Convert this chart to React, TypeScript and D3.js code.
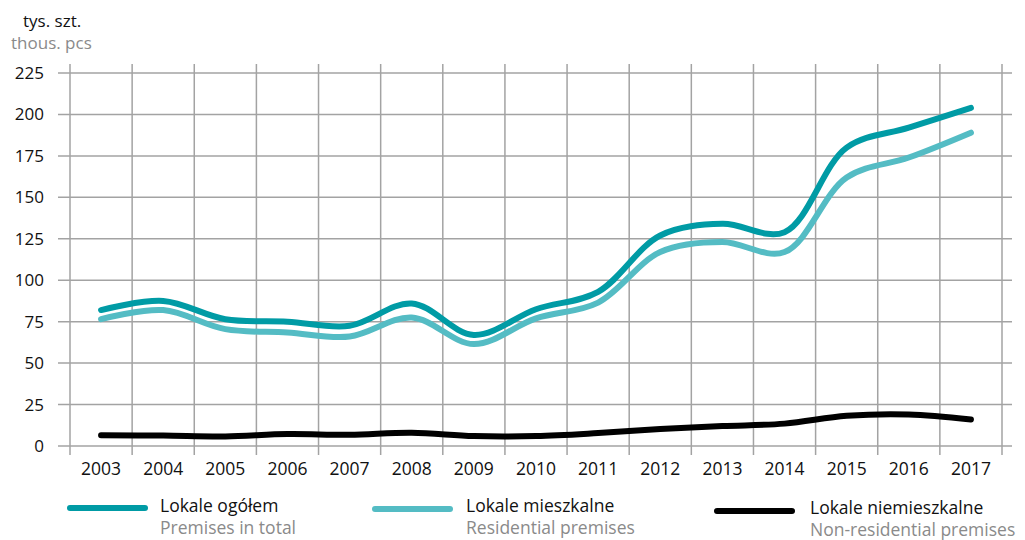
import React from "react";
import * as d3 from "d3";

const years = ["2003", "2004", "2005", "2006", "2007", "2008", "2009", "2010", "2011", "2012", "2013", "2014", "2015", "2016", "2017"];
const total = [82, 87.5, 76.5, 75, 72.5, 86, 67, 82.5, 93, 127, 134, 129, 180, 192, 204];
const residential = [76.5, 82, 70.5, 68.5, 66, 77.5, 61.5, 77, 86.5, 117, 123, 117, 162, 174, 189];
const nonResidential = [6.5, 6.3, 5.8, 7.2, 6.8, 8, 6, 6, 7.8, 10.2, 12, 13.5, 18.2, 19, 16];
const yTicks = [0, 25, 50, 75, 100, 125, 150, 175, 200, 225];

const seriesList = [
  { values: total, color: "#009ba5", pl: "Lokale ogółem", en: "Premises in total", lx: 70, ly: 508, tx: 160, tb: 512 },
  { values: residential, color: "#54bcc4", pl: "Lokale mieszkalne", en: "Residential premises", lx: 375, ly: 509, tx: 466, tb: 512 },
  { values: nonResidential, color: "#000000", pl: "Lokale niemieszkalne", en: "Non-residential premises", lx: 717, ly: 511, tx: 810, tb: 514 },
];

const W = 1025;
const H = 540;
const FONT = "'Open Sans', 'Noto Sans', sans-serif";

export default function App() {
  const x = d3.scaleBand<string>().domain(years).range([70, 1002]).paddingInner(0).paddingOuter(0);
  const y = d3.scaleLinear().domain([0, 225]).range([446, 73]);
  const cx = (i: number) => (x(years[i]) ?? 0) + x.bandwidth() / 2;

  const line = d3
    .line<number>()
    .x((_, i) => cx(i))
    .y((d) => y(d))
    .curve(d3.curveCatmullRom.alpha(0.5));

  const gridColor = "#a3a3a3";
  const bounds = [...years.map((yr) => x(yr) ?? 0), 1002];

  return (
    <svg
      width={W}
      height={H}
      viewBox={`0 0 ${W} ${H}`}
      style={{ position: "fixed", left: 0, top: 0, background: "#fff" }}
      fontFamily={FONT}
    >
      <text x={23} y={27} fontSize={17} fill="#111">tys. szt.</text>
      <text x={11} y={49} fontSize={17} fill="#8a8a8a">thous. pcs</text>

      {yTicks.map((t) => (
        <g key={t}>
          <line x1={58} x2={1012} y1={y(t)} y2={y(t)} stroke={gridColor} strokeWidth={1.5} />
          <text x={44} y={y(t) + 6} fontSize={17} textAnchor="end" fill="#111">{t}</text>
        </g>
      ))}

      {bounds.map((bx, i) => (
        <line key={i} x1={bx} x2={bx} y1={64} y2={455} stroke={gridColor} strokeWidth={1.5} />
      ))}

      {years.map((yr, i) => (
        <text key={yr} x={cx(i)} y={475} fontSize={17.5} textAnchor="middle" fill="#111">{yr}</text>
      ))}

      {seriesList.map((s) => (
        <path
          key={s.pl}
          d={line(s.values) ?? ""}
          fill="none"
          stroke={s.color}
          strokeWidth={6}
          strokeLinecap="round"
          strokeLinejoin="round"
        />
      ))}

      {seriesList.map((s) => (
        <g key={s.pl + "-legend"}>
          <line x1={s.lx} x2={s.lx + 75} y1={s.ly} y2={s.ly} stroke={s.color} strokeWidth={6} strokeLinecap="round" />
          <text x={s.tx} y={s.tb} fontSize={17.5} fill="#111">{s.pl}</text>
          <text x={s.tx} y={s.tb + 22} fontSize={17.5} fill="#8a8a8a">{s.en}</text>
        </g>
      ))}
    </svg>
  );
}
